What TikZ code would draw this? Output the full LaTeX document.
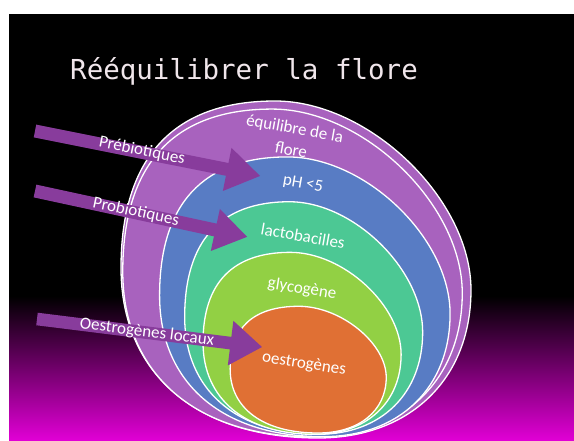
\documentclass[tikz,border=0pt]{standalone}
\usepackage{fontspec}
\setmainfont{Carlito}
\newfontfamily\titlefont{DejaVu Sans Mono}
\definecolor{bgmag}{RGB}{226,0,214}
\definecolor{purpA}{RGB}{168,98,190}
\definecolor{blueB}{RGB}{88,124,196}
\definecolor{tealC}{RGB}{76,200,148}
\definecolor{greenD}{RGB}{146,208,68}
\definecolor{orangeE}{RGB}{224,112,52}
\definecolor{arrowP}{RGB}{136,60,156}
\definecolor{titlec}{RGB}{240,230,235}
\tikzset{
  egg/.style={draw=white, line width=1.3pt},
  lbltext/.style={text=white, font=\fontsize{17}{22}\selectfont, inner sep=0pt, align=center},
  arrowbody/.style={fill=arrowP}
}
% #1 fill, #2 #3 anchor, #4 #5 x/y scale
\newcommand\eggshape[5]{%
  \begin{scope}[shift={(#2,#3)}, xscale=#4, yscale=#5, shift={(-#2,-#3)}]
  \filldraw[egg, fill=#1] (121,268)
    .. controls (121,158) and (173,101) .. (275,101)
    .. controls (369,101) and (471,199) .. (471,290)
    .. controls (471,379) and (410,438) .. (318,438)
    .. controls (196,438) and (121,373) .. (121,268) -- cycle;
  \end{scope}}
% block arrow: tail x, tail y, angle, length, half shaft, half head, head length
\newcommand\blockarrow[7]{%
  \begin{scope}[shift={(#1,#2)}, rotate=-#3]
    \fill[arrowbody] (0,-#5) -- ({#4-#7},-#5) -- ({#4-#7},-#6) -- (#4,0)
      -- ({#4-#7},#6) -- ({#4-#7},#5) -- (0,#5) -- cycle;
  \end{scope}}
\begin{document}
\begin{tikzpicture}[x=1pt, y=-1pt]
\useasboundingbox (0,0) rectangle (574,441);
\fill[white] (0,0) rectangle (574,441);
\fill[black] (9,14) rectangle (574,297);
\shade[top color=black, bottom color=bgmag] (9,296) rectangle (574,441);

\node[anchor=base west, text=titlec, font=\titlefont\fontsize{27.5}{30}\selectfont, inner sep=0pt] (title) at (70,80) {Rééquilibrer la flore};

\eggshape{purpA}{296}{270}{1}{1}
\eggshape{purpA}{180}{400}{0.97}{0.973}
\eggshape{blueB}{348}{430}{0.83}{0.83}
\eggshape{tealC}{320}{426}{0.68}{0.69}
\eggshape{greenD}{310}{430}{0.566}{0.54}
\eggshape{orangeE}{318}{430}{0.446}{0.376}

\node[lbltext, rotate=-10] (eq) at (293,139) {équilibre de la\\flore};
\node[lbltext, rotate=-10] (ph) at (303,184) {pH <5};
\node[lbltext, rotate=-10] (lacto) at (303,236) {lactobacilles};
\node[lbltext, rotate=-9] (glyco) at (302,289) {glycogène};
\node[lbltext, rotate=-9] (oestr) at (304,364) {oestrogènes};

\blockarrow{35}{131}{11.3}{229.5}{6.5}{22}{33.5}
\blockarrow{35}{191}{12.2}{217}{6.5}{21.5}{32.5}
\blockarrow{37}{319}{7.1}{226.7}{6.3}{22.5}{31.6}

\node[lbltext, rotate=-11.3] (preb) at (142,151) {Prébiotiques};
\node[lbltext, rotate=-12.2] (prob) at (136,212) {Probiotiques};
\node[lbltext, rotate=-7.1] (oloc) at (147,332.5) {Oestrogènes locaux};
\end{tikzpicture}
\end{document}
